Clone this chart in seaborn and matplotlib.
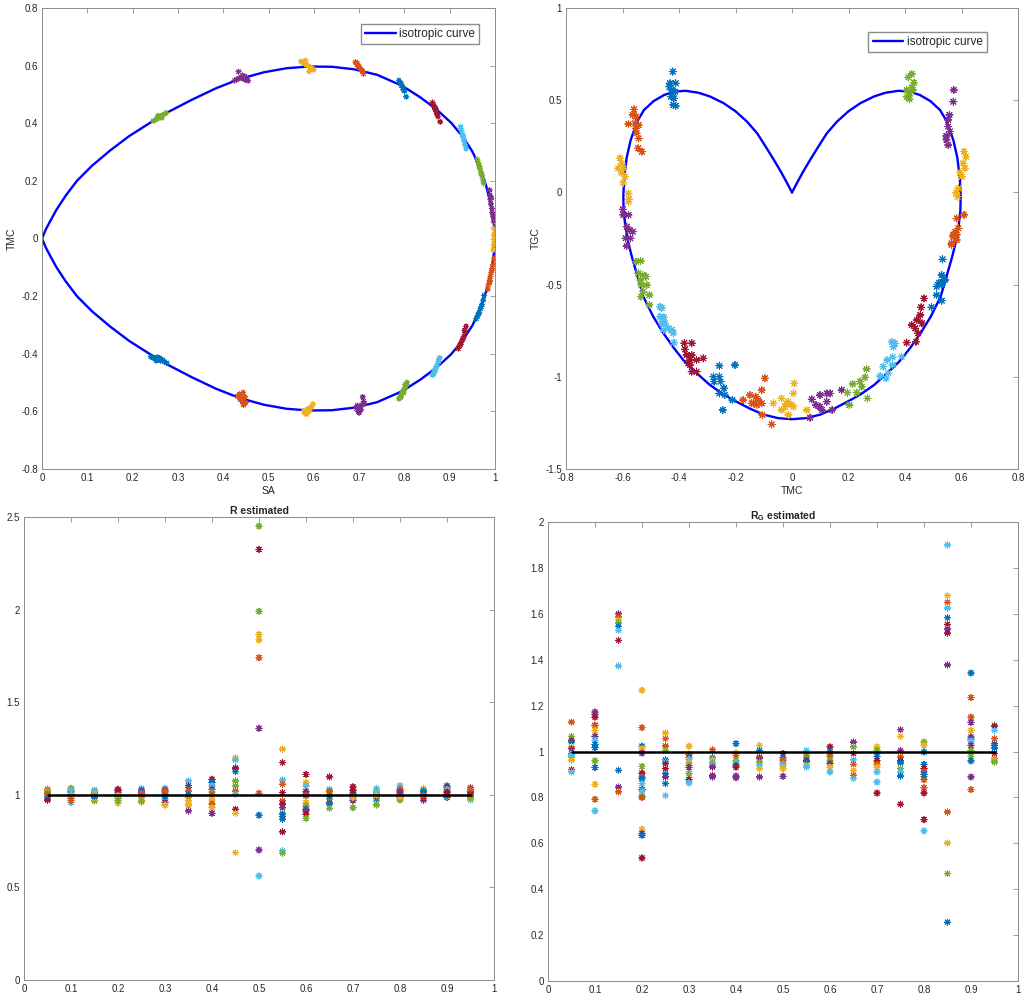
import numpy as np
import pandas as pd
import matplotlib
matplotlib.use('Agg')
import matplotlib.pyplot as plt
from matplotlib.ticker import FuncFormatter
import seaborn as sns

# ---------------- data ----------------
# MATLAB default colour order, keyed by letter
PAL = {'b': '#0072BD', 'o': '#D95319', 'y': '#EDB120', 'p': '#7E2F8E',
       'g': '#77AC30', 'l': '#4DBEEE', 'r': '#A2142F'}
CYCLE = 'boypglr'

# isotropic curve, SA vs TMC (closed loop: upper branch, then lower branch)
ISO_SA = [0.000, 0.008, 0.018, 0.032, 0.052, 0.077, 0.110, 0.150, 0.192, 0.235, 0.280,
          0.330, 0.385, 0.437, 0.490, 0.540, 0.590, 0.640, 0.690, 0.740, 0.795, 0.835,
          0.871, 0.903, 0.929, 0.950, 0.967, 0.980, 0.990, 0.996, 0.999, 1.000,
          0.999, 0.996, 0.990, 0.980, 0.967, 0.950, 0.929, 0.903, 0.871, 0.835, 0.795,
          0.740, 0.690, 0.640, 0.590, 0.540, 0.490, 0.437, 0.385, 0.330, 0.280, 0.235,
          0.192, 0.150, 0.110, 0.077, 0.052, 0.032, 0.018, 0.008, 0.000]
ISO_TMC = [0.000, 0.030, 0.060, 0.100, 0.148, 0.200, 0.252, 0.305, 0.355, 0.398, 0.440,
           0.481, 0.522, 0.554, 0.577, 0.591, 0.597, 0.596, 0.587, 0.568, 0.530, 0.490,
           0.448, 0.402, 0.353, 0.302, 0.245, 0.186, 0.122, 0.070, 0.030, 0.000,
           -0.030, -0.070, -0.122, -0.186, -0.245, -0.302, -0.353, -0.402, -0.448, -0.490,
           -0.530, -0.568, -0.587, -0.596, -0.597, -0.591, -0.577, -0.554, -0.522, -0.481,
           -0.440, -0.398, -0.355, -0.305, -0.252, -0.200, -0.148, -0.100, -0.060, -0.030,
           0.000]

# isotropic curve, TMC vs TGC (heart: right half from the cusp down, then left half back up)
HEART_TMC = [0.000, 0.020, 0.040, 0.064, 0.090, 0.123, 0.160, 0.200, 0.241, 0.290, 0.330,
             0.376, 0.415, 0.453, 0.490, 0.524, 0.548, 0.571, 0.585, 0.594, 0.597, 0.596,
             0.590, 0.579, 0.565, 0.550, 0.526, 0.491, 0.455, 0.420, 0.385, 0.337, 0.290,
             0.243, 0.200, 0.150, 0.100, 0.050, 0.000,
             -0.050, -0.100, -0.150, -0.200, -0.243, -0.290, -0.337, -0.385, -0.420, -0.455,
             -0.491, -0.526, -0.550, -0.565, -0.579, -0.590, -0.596, -0.597, -0.594, -0.585,
             -0.571, -0.548, -0.524, -0.490, -0.453, -0.415, -0.376, -0.330, -0.290, -0.241,
             -0.200, -0.160, -0.123, -0.090, -0.064, -0.040, -0.020, 0.000]
HEART_TGC = [0.000, 0.058, 0.114, 0.176, 0.240, 0.320, 0.385, 0.440, 0.483, 0.520, 0.540,
             0.551, 0.547, 0.528, 0.495, 0.447, 0.385, 0.284, 0.190, 0.080, -0.020, -0.100,
             -0.180, -0.276, -0.360, -0.439, -0.566, -0.674, -0.764, -0.840, -0.909, -0.981,
             -1.045, -1.095, -1.132, -1.172, -1.205, -1.224, -1.230,
             -1.224, -1.205, -1.172, -1.132, -1.095, -1.045, -0.981, -0.909, -0.840, -0.764,
             -0.674, -0.566, -0.439, -0.360, -0.276, -0.180, -0.100, -0.020, 0.080, 0.190,
             0.284, 0.385, 0.447, 0.495, 0.528, 0.547, 0.551, 0.540, 0.520, 0.483, 0.440,
             0.385, 0.320, 0.240, 0.176, 0.114, 0.058, 0.000]

# estimated samples, SA vs TMC, one list per sample (colour cycles)
SA_PTS = [
    [0.240, 0.245, 0.250, 0.254, 0.258, 0.262, 0.266, 0.270, 0.275, 0.252, 0.260],
    [0.432, 0.436, 0.440, 0.444, 0.446, 0.438, 0.442, 0.448, 0.450, 0.445],
    [0.578, 0.582, 0.586, 0.590, 0.594, 0.598, 0.584, 0.588, 0.592, 0.580],
    [0.694, 0.698, 0.702, 0.706, 0.710, 0.700, 0.704, 0.696, 0.712, 0.708],
    [0.788, 0.791, 0.794, 0.797, 0.800, 0.803, 0.806, 0.792, 0.798, 0.802],
    [0.862, 0.866, 0.869, 0.872, 0.875, 0.878, 0.864, 0.870, 0.876, 0.868],
    [0.919, 0.922, 0.925, 0.928, 0.931, 0.934, 0.936, 0.924, 0.930, 0.933],
    [0.959, 0.962, 0.965, 0.968, 0.971, 0.974, 0.976, 0.964, 0.970],
    [0.984, 0.986, 0.988, 0.990, 0.992, 0.994, 0.996, 0.989, 0.993, 0.998],
    [0.996, 0.997, 0.998, 0.999, 1.000, 0.997, 0.999, 0.998, 1.000],
    [0.997, 0.996, 0.994, 0.993, 0.991, 0.990, 0.989, 0.988, 0.995, 0.992],
    [0.975, 0.973, 0.971, 0.969, 0.967, 0.965, 0.963, 0.961, 0.970, 0.966],
    [0.936, 0.934, 0.932, 0.930, 0.928, 0.926, 0.924, 0.931, 0.929],
    [0.862, 0.864, 0.866, 0.868, 0.870, 0.872, 0.874, 0.869, 0.879],
    [0.788, 0.790, 0.792, 0.794, 0.796, 0.798, 0.800, 0.793, 0.804],
    [0.692, 0.695, 0.698, 0.701, 0.704, 0.707, 0.710, 0.700, 0.706, 0.696],
    [0.572, 0.576, 0.580, 0.584, 0.588, 0.592, 0.596, 0.600, 0.582, 0.590],
    [0.425, 0.430, 0.435, 0.440, 0.445, 0.450, 0.455, 0.434, 0.442, 0.448],
    [0.246, 0.250, 0.254, 0.258, 0.262, 0.266, 0.270, 0.274, 0.256, 0.264],
]
TMC_PTS = [
    [-0.410, -0.414, -0.418, -0.412, -0.420, -0.424, -0.421, -0.428, -0.432, -0.424, -0.415],
    [-0.548, -0.540, -0.552, -0.535, -0.556, -0.560, -0.566, -0.550, -0.570, -0.578],
    [-0.598, -0.604, -0.592, -0.600, -0.585, -0.575, -0.610, -0.596, -0.590, -0.606],
    [-0.590, -0.600, -0.585, -0.578, -0.565, -0.605, -0.595, -0.580, -0.572, -0.550],
    [-0.556, -0.548, -0.540, -0.530, -0.522, -0.512, -0.500, -0.552, -0.536, -0.506],
    [-0.474, -0.462, -0.452, -0.440, -0.428, -0.414, -0.470, -0.446, -0.420, -0.458],
    [-0.382, -0.372, -0.362, -0.352, -0.340, -0.326, -0.305, -0.368, -0.346, -0.318],
    [-0.278, -0.268, -0.256, -0.244, -0.230, -0.214, -0.198, -0.262, -0.236],
    [-0.176, -0.160, -0.146, -0.132, -0.118, -0.104, -0.090, -0.150, -0.110, -0.070],
    [-0.040, -0.025, -0.010, 0.005, 0.020, 0.035, -0.018, 0.012, 0.058],
    [0.060, 0.075, 0.090, 0.105, 0.120, 0.135, 0.150, 0.168, 0.085, 0.140],
    [0.192, 0.205, 0.218, 0.230, 0.242, 0.254, 0.264, 0.274, 0.224, 0.248],
    [0.312, 0.325, 0.338, 0.350, 0.362, 0.375, 0.388, 0.344, 0.356],
    [0.472, 0.464, 0.456, 0.448, 0.440, 0.432, 0.424, 0.452, 0.405],
    [0.548, 0.542, 0.536, 0.530, 0.524, 0.518, 0.512, 0.538, 0.492],
    [0.612, 0.604, 0.598, 0.592, 0.586, 0.580, 0.572, 0.596, 0.584, 0.608],
    [0.614, 0.610, 0.606, 0.602, 0.598, 0.594, 0.590, 0.586, 0.618, 0.580],
    [0.548, 0.552, 0.556, 0.558, 0.554, 0.550, 0.548, 0.579, 0.566, 0.562],
    [0.408, 0.412, 0.416, 0.420, 0.424, 0.428, 0.432, 0.436, 0.426, 0.418],
]

# estimated samples, TMC vs TGC
TMC2_PTS = [
    [-0.422, -0.432, -0.412, -0.426, -0.414, -0.428, -0.418, -0.420, -0.412, -0.434],
    [-0.559, -0.564, -0.552, -0.579, -0.555, -0.543, -0.552, -0.550, -0.543, -0.545, -0.531],
    [-0.609, -0.603, -0.615, -0.597, -0.603, -0.591, -0.597, -0.579, -0.577, -0.579],
    [-0.599, -0.597, -0.579, -0.585, -0.576, -0.564, -0.589, -0.572, -0.585],
    [-0.552, -0.536, -0.544, -0.529, -0.536, -0.517, -0.533, -0.514, -0.528, -0.535, -0.505, -0.505],
    [-0.467, -0.461, -0.467, -0.453, -0.461, -0.450, -0.438, -0.455, -0.420, -0.426, -0.418],
    [-0.381, -0.355, -0.379, -0.373, -0.355, -0.361, -0.338, -0.314, -0.361, -0.355, -0.338, -0.367],
    [-0.257, -0.202, -0.278, -0.257, -0.253, -0.276, -0.241, -0.257, -0.238, -0.211, -0.245],
    [-0.096, -0.173, -0.149, -0.128, -0.137, -0.119, -0.143, -0.125, -0.105, -0.072, -0.107, -0.107],
    [-0.037, -0.013, -0.025, -0.001, 0.005, -0.037, -0.066, 0.008, 0.005, -0.013, 0.052, -0.020],
    [0.070, 0.099, 0.123, 0.135, 0.123, 0.085, 0.106, 0.142, 0.176, 0.064, 0.099],
    [0.196, 0.215, 0.241, 0.229, 0.247, 0.259, 0.264, 0.267, 0.203],
    [0.312, 0.333, 0.341, 0.323, 0.337, 0.356, 0.356, 0.388, 0.359, 0.353, 0.365],
    [0.406, 0.439, 0.447, 0.436, 0.460, 0.442, 0.454, 0.457, 0.467, 0.424],
    [0.494, 0.530, 0.512, 0.512, 0.530, 0.536, 0.530, 0.542, 0.533, 0.520],
    [0.571, 0.583, 0.565, 0.583, 0.609, 0.589, 0.571, 0.583, 0.565, 0.578],
    [0.609, 0.616, 0.606, 0.612, 0.595, 0.601, 0.589, 0.581, 0.586],
    [0.573, 0.571, 0.557, 0.553, 0.553, 0.559, 0.547, 0.553, 0.546],
    [0.424, 0.412, 0.432, 0.424, 0.418, 0.406, 0.416, 0.428, 0.406],
]
TGC_PTS = [
    [0.655, 0.592, 0.592, 0.555, 0.546, 0.519, 0.510, 0.474, 0.469, 0.573],
    [0.450, 0.420, 0.411, 0.371, 0.375, 0.366, 0.348, 0.321, 0.293, 0.239, 0.221],
    [0.185, 0.157, 0.131, 0.131, 0.104, 0.086, 0.053, -0.005, -0.038, -0.050],
    [-0.092, -0.122, -0.122, -0.186, -0.204, -0.213, -0.249, -0.249, -0.291],
    [-0.376, -0.372, -0.439, -0.448, -0.475, -0.457, -0.502, -0.502, -0.538, -0.565, -0.556, -0.611],
    [-0.620, -0.626, -0.674, -0.678, -0.710, -0.710, -0.737, -0.746, -0.764, -0.746, -0.815],
    [-0.818, -0.818, -0.851, -0.882, -0.882, -0.909, -0.909, -0.900, -0.936, -0.972, -0.972, -0.927],
    [-0.940, -0.936, -0.999, -0.999, -1.026, -1.026, -1.062, -1.090, -1.099, -1.126, -1.180],
    [-1.008, -1.126, -1.099, -1.108, -1.144, -1.126, -1.144, -1.153, -1.207, -1.258, -1.144, -1.072],
    [-1.117, -1.135, -1.162, -1.153, -1.162, -1.180, -1.144, -1.036, -1.090, -1.207, -1.180, -1.145],
    [-1.122, -1.099, -1.090, -1.090, -1.135, -1.153, -1.180, -1.180, -1.072, -1.222, -1.162],
    [-1.086, -1.039, -1.026, -1.086, -1.054, -1.003, -0.958, -1.117, -1.153],
    [-0.996, -1.008, -0.981, -0.945, -0.909, -0.894, -0.936, -0.891, -0.837, -0.810, -0.819],
    [-0.815, -0.810, -0.764, -0.737, -0.710, -0.692, -0.665, -0.623, -0.575, -0.719],
    [-0.623, -0.587, -0.557, -0.511, -0.502, -0.475, -0.448, -0.475, -0.363, -0.490],
    [-0.240, -0.231, -0.276, -0.141, -0.122, -0.195, -0.231, -0.258, -0.285, -0.215],
    [0.221, 0.194, 0.158, 0.131, 0.107, 0.085, 0.022, -0.002, -0.023],
    [0.555, 0.492, 0.420, 0.393, 0.357, 0.330, 0.285, 0.257, 0.306],
    [0.642, 0.624, 0.595, 0.570, 0.537, 0.519, 0.505, 0.555, 0.555],
]

# R estimated: x positions, values at each position and the colour letter of each value
R_X = [0.05, 0.10, 0.15, 0.20, 0.25, 0.30, 0.35, 0.40, 0.45, 0.50,
       0.55, 0.60, 0.65, 0.70, 0.75, 0.80, 0.85, 0.90, 0.95]
R_VALS = [
    [1.03, 1.02, 1.01, 1.0, 0.99, 0.985, 0.975, 0.97, 1.015, 1.005],
    [1.035, 1.02, 1.01, 1.0, 0.99, 0.98, 0.958, 1.025, 0.995, 0.97],
    [1.025, 1.015, 1.005, 0.995, 0.985, 0.967, 1.02, 1.0, 0.98, 0.99],
    [1.03, 1.02, 1.01, 1.0, 0.99, 0.98, 0.955, 1.025, 0.995, 0.97],
    [1.035, 1.025, 1.015, 1.005, 0.995, 0.985, 0.97, 0.96, 1.01, 0.965],
    [1.035, 1.025, 1.015, 1.005, 0.995, 0.975, 0.958, 0.944, 1.02, 0.99],
    [1.075, 1.05, 1.04, 1.02, 1.0, 0.985, 0.967, 0.95, 0.94, 0.913],
    [1.084, 1.066, 1.048, 1.03, 1.015, 1.0, 0.972, 0.95, 0.93, 0.90],
    [1.20, 1.188, 1.147, 1.14, 1.125, 1.075, 1.048, 1.02, 1.003, 0.922, 0.90, 0.688],
    [2.451, 2.325, 1.991, 1.866, 1.836, 1.740, 1.359, 1.008, 0.89, 0.702, 0.562],
    [1.247, 1.174, 1.08, 1.057, 1.012, 0.967, 0.95, 0.93, 0.90, 0.882, 0.868, 0.80, 0.697, 0.684, 0.895],
    [1.11, 1.066, 1.048, 1.016, 1.003, 0.995, 0.958, 0.94, 0.922, 0.913, 0.895, 0.873],
    [1.097, 1.03, 1.012, 1.0, 0.976, 0.958, 0.95, 0.927, 1.02, 0.99],
    [1.043, 1.015, 1.005, 0.99, 0.976, 0.97, 0.93, 1.0, 1.025, 0.985],
    [1.035, 1.02, 1.01, 1.0, 0.99, 0.967, 0.945, 0.98, 1.015, 0.995],
    [1.048, 1.021, 1.01, 1.0, 0.985, 0.972, 0.99, 1.03, 0.995, 1.015],
    [1.035, 1.025, 1.015, 1.0, 0.99, 0.97, 0.98, 1.005, 1.02, 0.995],
    [1.048, 1.04, 1.02, 1.01, 1.0, 0.985, 0.99, 1.03, 0.995, 1.015],
    [1.039, 1.021, 1.01, 0.99, 0.972, 0.98, 1.0, 1.015, 0.985, 1.03],
]
R_COLS = ['oybglbprgo', 'grobypllyo', 'gpobrglyyb', 'poblrgyryg', 'lpbrogyyog',
          'lrogbypyob', 'lrbobgyyyp', 'rblpgoyoyp', 'ylprbggolryy', 'grgyyopobpl',
          'yrlororpgpbrlgb', 'rylrpoygbprg', 'rlyogpbgob', 'rlogypgbry', 'lgorpygbly',
          'lrobbgyoyp', 'ylogbprgbo', 'brogypylbr', 'plgolybrgo']

# R_G estimated
RG_VALS = [
    [1.128, 1.066, 1.049, 1.041, 1.02, 1.012, 0.991, 0.976, 0.962, 0.921, 0.911, 0.985],
    [1.172, 1.162, 1.150, 1.114, 1.114, 1.092, 1.066, 1.049, 1.017, 0.959, 0.93, 0.857, 0.792, 0.741, 1.03],
    [1.60, 1.586, 1.572, 1.56, 1.545, 1.528, 1.484, 1.373, 0.918, 0.845, 0.824],
    [1.267, 1.104, 1.023, 1.012, 0.993, 0.935, 0.906, 0.889, 0.882, 0.86, 0.834, 0.828,
     0.805, 0.799, 0.661, 0.642, 0.635, 0.536],
    [1.081, 1.056, 1.024, 1.005, 0.964, 0.955, 0.947, 0.925, 0.903, 0.889, 0.86, 0.808],
    [1.023, 0.988, 0.973, 0.965, 0.95, 0.94, 0.93, 0.903, 0.877, 0.863],
    [1.008, 0.973, 0.965, 0.95, 0.94, 0.932, 0.896, 0.889],
    [1.034, 0.993, 0.983, 0.959, 0.947, 0.94, 0.932, 0.893, 0.886],
    [1.027, 1.005, 0.976, 0.969, 0.954, 0.94, 0.925, 0.889],
    [0.991, 0.973, 0.962, 0.947, 0.94, 0.925, 0.892],
    [1.005, 0.983, 0.975, 0.962, 0.955, 0.94, 0.932],
    [1.02, 0.998, 0.98, 0.962, 0.947, 0.932, 0.911],
    [1.041, 1.02, 0.991, 0.964, 0.944, 0.918, 0.896, 0.882],
    [1.02, 1.005, 0.979, 0.959, 0.944, 0.932, 0.911, 0.867, 0.819],
    [1.095, 1.066, 1.005, 0.976, 0.959, 0.95, 0.925, 0.911, 0.893, 0.770],
    [1.041, 1.027, 0.998, 0.944, 0.925, 0.911, 0.892, 0.877, 0.842, 0.819, 0.703, 0.654, 0.90],
    [1.90, 1.679, 1.65, 1.625, 1.583, 1.554, 1.534, 1.516, 1.377, 0.736, 0.601, 0.468, 0.256],
    [1.342, 1.235, 1.150, 1.127, 1.092, 1.063, 1.052, 1.045, 1.027, 1.005, 0.979, 0.959, 0.889, 0.834],
    [1.114, 1.11, 1.092, 1.056, 1.034, 1.027, 0.991, 0.969, 0.962, 0.954, 1.015],
]
RG_COLS = ['ogrbypbgyrll', 'pprroyplbgbyolb', 'poygblrlbpo', 'yobypgroblplgoypbr',
           'yoogblrrbpbl', 'yoblygpgrl', 'obyglprp', 'byoglbrpp', 'ybopglyp', 'rboglyp',
           'logrbyl', 'rbogpyl', 'pgrloyol', 'ygbroyllr', 'pyporbglbr', 'gybbrogoorrlb',
           'lyolbrprpoygb', 'boopypblpggbpo', 'grlobproygb']

# ---------------- style ----------------
sns.set_style('white')
plt.rcParams['font.family'] = ['Liberation Sans', 'DejaVu Sans']
plt.rcParams['axes.unicode_minus'] = False
plt.rcParams['mathtext.fontset'] = 'custom'
plt.rcParams['mathtext.rm'] = 'Liberation Sans'
plt.rcParams['mathtext.bf'] = 'Liberation Sans:bold'

STAR = (8, 2, 0)   # MATLAB-like asterisk
GREY = '#8c8c8c'
fmt = FuncFormatter(lambda v, pos: f'{v:g}')


def matlab_axes(ax, xlim, ylim, xticks, yticks):
    ax.set_xlim(xlim)
    ax.set_ylim(ylim)
    ax.set_xticks(xticks)
    ax.set_yticks(yticks)
    ax.xaxis.set_major_formatter(fmt)
    ax.yaxis.set_major_formatter(fmt)
    ax.tick_params(direction='in', top=True, right=True, length=3.5, width=0.6,
                   color=GREY, labelcolor='#262626', labelsize=7, pad=3)
    for sp in ax.spines.values():
        sp.set_color(GREY)
        sp.set_linewidth(0.7)


def cluster_frame(xs, ys):
    rows = []
    for i, (cx, cy) in enumerate(zip(xs, ys)):
        for a, b in zip(cx, cy):
            rows.append((a, b, CYCLE[i % 7]))
    return pd.DataFrame(rows, columns=['x', 'y', 'c'])


def column_frame(xpos, vals, cols):
    rows = []
    for xv, vs, cs in zip(xpos, vals, cols):
        for v, c in zip(vs, cs):
            rows.append((xv, v, c))
    return pd.DataFrame(rows, columns=['x', 'y', 'c'])


W, H = 1025, 998
fig = plt.figure(figsize=(W / 100, H / 100), dpi=100)


def place(l, t, r, b):
    return fig.add_axes([l / W, 1 - b / H, (r - l) / W, (b - t) / H])


ax1 = place(42, 8, 495, 469)
ax2 = place(566, 8, 1018, 469)
ax3 = place(24, 517, 494, 980)
ax4 = place(548, 522, 1018, 981)

# ---- top left: SA vs TMC ----
sns.lineplot(x=ISO_SA, y=ISO_TMC, sort=False, estimator=None, color='blue', lw=1.7,
             label='isotropic curve', ax=ax1)
sns.scatterplot(data=cluster_frame(SA_PTS, TMC_PTS), x='x', y='y', hue='c', palette=PAL,
                marker=STAR, s=14, linewidth=0.6, legend=False, zorder=3, ax=ax1)
matlab_axes(ax1, (0, 1), (-0.8, 0.8), np.round(np.linspace(0, 1, 11), 2),
            np.round(np.linspace(-0.8, 0.8, 9), 2))
ax1.set_xlabel('SA', fontsize=7.5, labelpad=2)
ax1.set_ylabel('TMC', fontsize=7.5, labelpad=3)
ax1.legend(loc='upper right', bbox_to_anchor=(0.965, 0.965), borderaxespad=0,
           fancybox=False, edgecolor=GREY, framealpha=1, fontsize=8.5,
           handlelength=2.6, borderpad=0.35, handletextpad=0.3)

# ---- top right: TMC vs TGC ----
sns.lineplot(x=HEART_TMC, y=HEART_TGC, sort=False, estimator=None, color='blue', lw=1.7,
             label='isotropic curve', ax=ax2)
sns.scatterplot(data=cluster_frame(TMC2_PTS, TGC_PTS), x='x', y='y', hue='c', palette=PAL,
                marker=STAR, s=26, linewidth=0.7, legend=False, zorder=3, ax=ax2)
matlab_axes(ax2, (-0.8, 0.8), (-1.5, 1), np.round(np.linspace(-0.8, 0.8, 9), 2),
            np.round(np.linspace(-1.5, 1, 6), 2))
ax2.set_xlabel('TMC', fontsize=7.5, labelpad=2)
ax2.set_ylabel('TGC', fontsize=7.5, labelpad=3)
ax2.legend(loc='upper right', bbox_to_anchor=(0.931, 0.948), borderaxespad=0,
           fancybox=False, edgecolor=GREY, framealpha=1, fontsize=8.5,
           handlelength=2.6, borderpad=0.35, handletextpad=0.3)

# ---- bottom left: R estimated ----
sns.scatterplot(data=column_frame(R_X, R_VALS, R_COLS), x='x', y='y', hue='c', palette=PAL,
                marker=STAR, s=20, linewidth=0.7, legend=False, zorder=3, ax=ax3)
sns.lineplot(x=[R_X[0], R_X[-1]], y=[1, 1], color='black', lw=1.8, zorder=4, ax=ax3)
matlab_axes(ax3, (0, 1), (0, 2.5), np.round(np.linspace(0, 1, 11), 2),
            np.round(np.linspace(0, 2.5, 6), 2))
ax3.set_xlabel('')
ax3.set_ylabel('')
ax3.set_title('R estimated', fontsize=7.5, fontweight='bold', pad=2)

# ---- bottom right: R_G estimated ----
sns.scatterplot(data=column_frame(R_X, RG_VALS, RG_COLS), x='x', y='y', hue='c', palette=PAL,
                marker=STAR, s=20, linewidth=0.7, legend=False, zorder=3, ax=ax4)
sns.lineplot(x=[R_X[0], R_X[-1]], y=[1, 1], color='black', lw=1.8, zorder=4, ax=ax4)
matlab_axes(ax4, (0, 1), (0, 2), np.round(np.linspace(0, 1, 11), 2),
            np.round(np.linspace(0, 2, 11), 2))
ax4.set_xlabel('')
ax4.set_ylabel('')
ax4.set_title(r'$\mathbf{R_G}$ estimated', fontsize=7.5, fontweight='bold', pad=2)

fig.savefig('out.png', dpi=100)
